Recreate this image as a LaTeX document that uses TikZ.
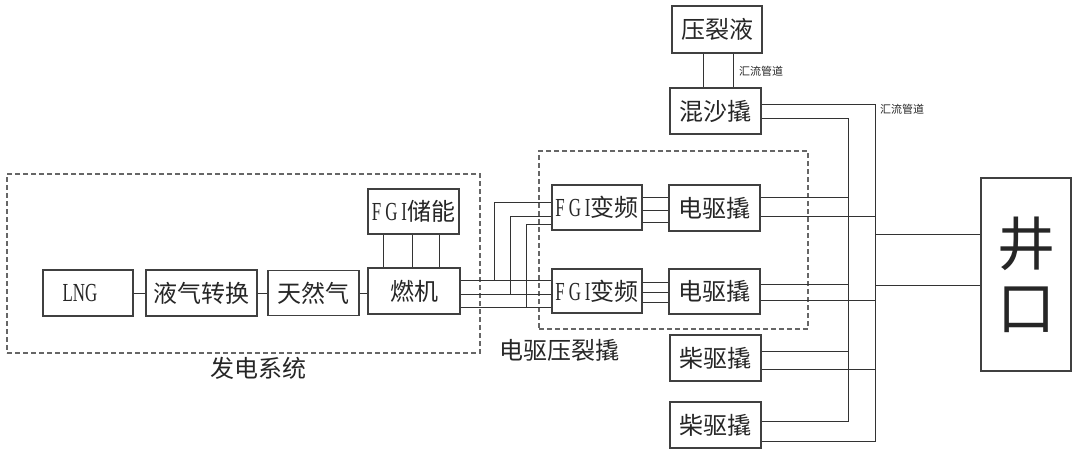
\documentclass[tikz,border=0pt]{standalone}
\usepackage{fontspec}
\newfontfamily\cjk{Noto Sans CJK SC}
\newfontfamily\lat[FakeStretch=0.65]{Liberation Serif}
\newcommand{\latfgi}{{\lat\fontsize{26}{28}\selectfont F\kern4pt G\kern4pt I}}
\usetikzlibrary{calc}
\begin{document}
\begin{tikzpicture}[x=1pt,y=-1pt,
  box/.style={draw=black!75, line width=1.2pt, inner sep=0pt, font=\cjk\fontsize{24}{26}\selectfont, text=black!85},
  sz/.style 2 args={minimum width=#1, minimum height=#2},
  ln/.style={draw=black!80, line width=0.9pt},
  dbox/.style={draw=black!60, line width=1.1pt, dash pattern=on 5pt off 3pt, inner sep=0pt},
  lbl/.style={inner sep=0pt, font=\cjk\fontsize{24}{26}\selectfont, text=black!85},
  small/.style={inner sep=0pt, font=\cjk\fontsize{11}{12}\selectfont, text=black!85}]
\fill[white] (0,0) rectangle (1080,459);
\useasboundingbox (0,0) rectangle (1080,459);

% dashed groups
\node[dbox, sz={473}{179}] (fd) at (243.5,263.5) {};
\node[dbox, sz={269}{178}] (dz) at (673.5,240) {};
\node[lbl] (t1) at (258,368) {发电系统};
\node[lbl] (t2) at (559,350) {电驱压裂撬};

% boxes
\node[box, sz={90}{47}] (yly) at (717,29.5) {压裂液};
\node[box, sz={91}{46}] (hss) at (715.5,111) {混沙撬};
\node[box, sz={91}{45}] (cn) at (413.5,211.5) {\latfgi 储能};
\node[box, sz={90}{46}] (lng) at (88,293) {\hspace*{-16pt}{\lat\fontsize{26}{28}\selectfont LNG}};
\node[box, sz={111}{46}] (yq) at (201.5,293) {液气转换};
\node[box, sz={91}{45}] (trq) at (313.5,293) {天然气};
\node[box, sz={92}{46}] (rj) at (414,291) {燃机};
\node[box, sz={90}{45}] (f1) at (597,207.5) {\latfgi 变频};
\node[box, sz={90}{44}] (f2) at (597,291) {\latfgi 变频};
\node[box, sz={91}{46}] (d1) at (714.5,208) {电驱撬};
\node[box, sz={91}{45}] (d2) at (714.5,291.5) {电驱撬};
\node[box, sz={91}{46}] (c1) at (715.5,358) {柴驱撬};
\node[box, sz={91}{46}] (c2) at (715.5,425) {柴驱撬};
\node[box, sz={90}{193}, align=center, font=\cjk\fontsize{58}{64}\selectfont] (jk) at (1026,274.5) {井\\口};

\node[small] (hl1) at (761,71) {汇流管道};
\node[small] (hl2) at (902,109) {汇流管道};

% generation chain
\draw[ln] (lng) -- (yq);
\draw[ln] (yq) -- (trq);
\draw[ln] (trq.east) -- (trq.east -| rj.west);
\foreach \f in {0.176,0.484,0.78}{
  \coordinate (p) at ($(cn.south west)!\f!(cn.south east)$);
  \draw[ln] (p) -- (p |- rj.north);
}

% turbine to FGI
\coordinate (r1) at ($(rj.east)+(0,-11)$);
\coordinate (r2) at ($(rj.east)+(0,3)$);
\coordinate (r3) at ($(rj.east)+(0,16)$);
\foreach \r in {r1,r2,r3}{\draw[ln] (\r) -- (\r -| f2.west);}
\coordinate (k1) at (494,0);
\coordinate (k2) at (510,0);
\coordinate (k3) at (526,0);
\draw[ln] (r1 -| k1) |- ($(f1.west)+(0,-5.5)$);
\draw[ln] (r2 -| k2) |- ($(f1.west)+(0,8.5)$);
\draw[ln] (r3 -| k3) |- ($(f1.west)+(0,16.5)$);

% FGI to electric pumps
\foreach \o in {-10.5,2.5,14.5}{
  \coordinate (q) at ($(f1.east)+(0,\o)$);
  \draw[ln] (q) -- (q -| d1.west);
}
\foreach \o in {-9,1,11}{
  \coordinate (q) at ($(f2.east)+(0,\o)$);
  \draw[ln] (q) -- (q -| d2.west);
}

% fluid to blender
\coordinate (y1) at ($(yly.south)+(-14,0)$);
\coordinate (y2) at ($(yly.south)+(16,0)$);
\draw[ln] (y1) -- (y1 |- hss.north);
\draw[ln] (y2) -- (y2 |- hss.north);

% manifolds
\coordinate (bA) at (848,0);
\coordinate (bB) at (875,0);
\coordinate (h1) at ($(hss.east)+(0,-7)$);
\coordinate (h2) at ($(hss.east)+(0,7)$);
\coordinate (e2) at ($(c2.east)+(0,-4)$);
\coordinate (e3) at ($(c2.east)+(0,16)$);
\draw[ln] (h2) -| (bA |- e2) -- (e2);
\draw[ln] (h1) -| (bB |- e3) -- (e3);
\coordinate (a1) at ($(d1.east)+(0,-11)$);
\coordinate (a2) at ($(d1.east)+(0,8)$);
\coordinate (a3) at ($(d2.east)+(0,-7.5)$);
\coordinate (a4) at ($(d2.east)+(0,8.5)$);
\coordinate (a5) at ($(c1.east)+(0,-7)$);
\coordinate (a6) at ($(c1.east)+(0,11)$);
\foreach \a in {a1,a3,a5}{\draw[ln] (\a) -- (\a -| bA);}
\foreach \a in {a2,a4,a6}{\draw[ln] (\a) -- (\a -| bB);}

% to wellhead
\coordinate (j1) at ($(jk.west)+(0,-40.5)$);
\coordinate (j2) at ($(jk.west)+(0,10.5)$);
\draw[ln] (j1 -| bB) -- (j1);
\draw[ln] (j2 -| bB) -- (j2);
\end{tikzpicture}
\end{document}
